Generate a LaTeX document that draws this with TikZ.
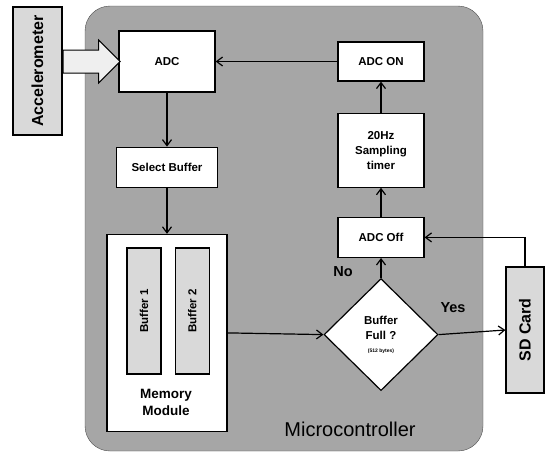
\documentclass[tikz,border=0pt]{standalone}
\usepackage{fontspec}
\setmainfont{Liberation Sans}
\usetikzlibrary{positioning}
\usetikzlibrary{arrows.meta}
\usetikzlibrary{shapes.geometric}
\usetikzlibrary{shapes.arrows}

\definecolor{chipGray}{HTML}{A6A6A6}
\definecolor{boxGray}{HTML}{D9D9D9}
\definecolor{feedGray}{HTML}{EFEFEF}

\begin{document}
\begin{tikzpicture}[
	x=1pt, y=1pt,
	block/.style={draw, fill=white, line width=1.2pt, inner sep=0pt,
		align=center, font=\fontsize{11.5}{15}\selectfont\bfseries},
	bar/.style={draw, fill=boxGray, line width=1.2pt, inner sep=0pt},
	arr/.style={line width=1.2pt, -{Straight Barb[length=6pt,width=9pt]}}
]

\useasboundingbox (0,0) rectangle (554,-453);

\node[
	draw=black!70,
	fill=chipGray,
	rounded corners=25pt,
	minimum width=398pt,
	minimum height=445pt
] (chip) at (284,-228.5) {};

\node[
	font=\fontsize{20}{24}\selectfont
] (chipLabel) at (350,-429) {Microcontroller};

\node[
	bar,
	minimum width=49pt,
	minimum height=128pt,
	font=\fontsize{16}{18}\selectfont\bfseries
] (accel) at (37.5,-71) {\rotatebox{90}{Accelerometer}};

\node[
	block,
	minimum width=96pt,
	minimum height=61pt
] (adc) at (167,-61.5) {ADC};

\node[
	block,
	minimum width=101pt,
	minimum height=40pt,
	below=54pt of adc
] (select) {Select Buffer};

\node[
	block,
	minimum width=120pt,
	minimum height=197pt,
	below=46pt of select
] (memory) {};

\node[
	bar,
	minimum width=34pt,
	minimum height=126pt,
	font=\fontsize{11.5}{14}\selectfont\bfseries
] (buf1) at (144,-311) {\rotatebox{90}{Buffer 1}};

\node[
	bar,
	minimum width=34pt,
	minimum height=126pt,
	font=\fontsize{11.5}{14}\selectfont\bfseries,
	right=13pt of buf1
] (buf2) {\rotatebox{90}{Buffer 2}};

\node[
	align=center,
	font=\fontsize{13.5}{17}\selectfont\bfseries
] (memLabel) at (166,-402) {Memory\\Module};

\node[
	block,
	minimum width=86pt,
	minimum height=39pt
] (adcOn) at (381,-61.5) {ADC ON};

\node[
	block,
	minimum width=86pt,
	minimum height=74pt,
	below=31pt of adcOn
] (timer) {20Hz\\Sampling\\timer};

\node[
	block,
	minimum width=86pt,
	minimum height=40pt,
	below=29pt of timer
] (adcOff) {ADC Off};

\node[
	block,
	diamond,
	minimum width=114pt,
	minimum height=112pt,
	below=20pt of adcOff
] (full) {Buffer\\Full ?\\[-2pt]{\fontsize{5}{6}\selectfont(512 bytes)}};

\node[
	bar,
	minimum width=38pt,
	minimum height=126pt,
	font=\fontsize{16}{18}\selectfont\bfseries
] (sd) at (525,-330) {\rotatebox{90}{SD Card}};

\node[
	draw,
	fill=feedGray,
	line width=1pt,
	single arrow,
	shape border rotate=0,
	inner ysep=11pt,
	inner xsep=0pt,
	minimum height=57pt,
	single arrow head extend=10pt,
	single arrow head indent=0pt,
	anchor=tail
] (feed) at (accel.east |- adc.west) {};

\node[font=\fontsize{14.5}{17}\selectfont\bfseries] (no) at (343,-272) {No};
\node[font=\fontsize{14.5}{17}\selectfont\bfseries] (yes) at (453,-308) {Yes};

% ---

\draw[arr] (adc.south) -- (select.north);
\draw[arr] (select.south) -- (memory.north);
\draw[arr] (memory.east) -- (full.west);
\draw[arr] (full.east) -- (sd.west);
\draw[arr] (full.north) -- (adcOff.south);
\draw[arr] (adcOff.north) -- (timer.south);
\draw[arr] (timer.north) -- (adcOn.south);
\draw[arr] (adcOn.west) -- (adc.east);
\draw[arr] (sd.north) |- (adcOff.east);

\end{tikzpicture}
\end{document}
